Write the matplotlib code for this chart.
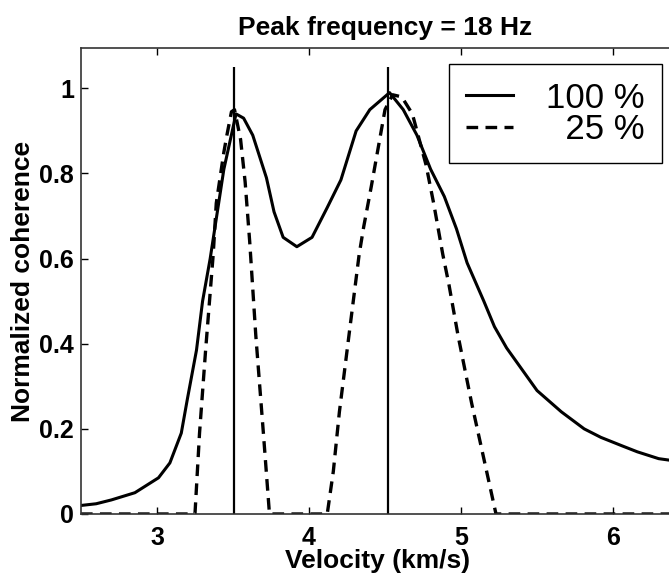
import matplotlib.pyplot as plt

# curva 100 % (linha cheia)
vel_100 = [2.5, 2.6, 2.7, 2.855, 3.01, 3.085, 3.16, 3.2, 3.26, 3.3, 3.35, 3.44, 3.52,
           3.57, 3.63, 3.72, 3.77, 3.83, 3.92, 4.02, 4.12, 4.21, 4.31, 4.4, 4.53,
           4.62, 4.71, 4.8, 4.89, 4.97, 5.04, 5.15, 5.22, 5.3, 5.42, 5.5, 5.66,
           5.81, 5.92, 6.06, 6.16, 6.3, 6.5]
coh_100 = [0.02, 0.024, 0.033, 0.05, 0.085, 0.12, 0.19, 0.27, 0.385, 0.5, 0.6, 0.81, 0.94,
           0.93, 0.89, 0.79, 0.71, 0.65, 0.628, 0.65, 0.72, 0.785, 0.9, 0.95, 0.99,
           0.95, 0.89, 0.81, 0.746, 0.67, 0.59, 0.5, 0.44, 0.39, 0.33, 0.29, 0.24,
           0.2, 0.18, 0.16, 0.146, 0.13, 0.12]

# curva 25 % (tracejada)
vel_25 = [2.5, 3.25, 3.28, 3.32, 3.37, 3.39, 3.44, 3.46, 3.49, 3.51, 3.55, 3.58, 3.61,
          3.65, 3.7, 3.74, 4.12, 4.16, 4.2, 4.27, 4.33, 4.36, 4.41, 4.46, 4.5, 4.55,
          4.61, 4.68, 4.71, 4.77, 4.82, 4.88, 4.92, 4.98, 5.07, 5.15, 5.23, 6.5]
coh_25 = [0.0, 0.0, 0.19, 0.385, 0.61, 0.73, 0.85, 0.89, 0.945, 0.95, 0.88, 0.78, 0.64,
          0.42, 0.19, 0.0, 0.0, 0.1, 0.24, 0.44, 0.61, 0.675, 0.77, 0.87, 0.95, 0.985,
          0.98, 0.94, 0.9, 0.82, 0.73, 0.61, 0.54, 0.42, 0.26, 0.13, 0.0, 0.0]

# velocidades dos picos (linhas verticais)
picos = [3.51, 4.52]
altura_picos = 1.05

yticks = [0, 0.2, 0.4, 0.6, 0.8, 1.0]
ytick_labels = ['0', '0.2', '0.4', '0.6', '0.8', '1']
xticks = [3, 4, 5, 6]

fonte_b = ['Liberation Sans', 'DejaVu Sans']

fig = plt.figure(figsize=(6.69, 5.84), dpi=100)
ax = fig.add_axes([0.121, 0.1199, 0.909, 0.798])

ax.plot(vel_100, coh_100, color='black', linewidth=2.2, label='100 %')
ax.plot(vel_25, coh_25, color='black', linewidth=2.4, linestyle=(0, (3.5, 2.2)),
        label='\u200725 %')
ax.vlines(picos, 0, altura_picos, colors='black', linewidth=1.6)

ax.set_xlim(2.5, 6.5)
ax.set_ylim(0, 1.095)
ax.set_xticks(xticks)
ax.set_xticklabels([str(v) for v in xticks])
ax.set_yticks(yticks)
ax.set_yticklabels(ytick_labels)
ax.tick_params(direction='in', top=True, length=5, width=1)
ax.tick_params(axis='x', pad=9)
ax.tick_params(axis='y', pad=5)
for lab in ax.get_xticklabels() + ax.get_yticklabels():
    lab.set_family(fonte_b)
    lab.set_fontweight('bold')
    lab.set_fontsize(18)

for s in ax.spines.values():
    s.set_linewidth(1.2)
    s.set_color('#333333')

ax.set_xlabel('Velocity (km/s)', fontsize=19, fontweight='bold', family=fonte_b, labelpad=1)
ax.xaxis.set_label_coords(0.487, -0.075)
ax.set_ylabel('Normalized coherence', fontsize=19, fontweight='bold', family=fonte_b, labelpad=3)
ax.set_title('Peak frequency = 18 Hz', fontsize=19, fontweight='bold', family=fonte_b, pad=9)

leg = ax.legend(loc='upper right', bbox_to_anchor=(0.9895, 0.890), bbox_transform=fig.transFigure,
                borderaxespad=0, fancybox=False, edgecolor='black', framealpha=1,
                prop={'family': ['Liberation Sans', 'DejaVu Sans'], 'size': 25},
                handlelength=1.35, handletextpad=0.95, labelspacing=-0.05,
                borderpad=0.5)
leg.get_frame().set_linewidth(1.0)

fig.savefig('out.png', dpi=100)
